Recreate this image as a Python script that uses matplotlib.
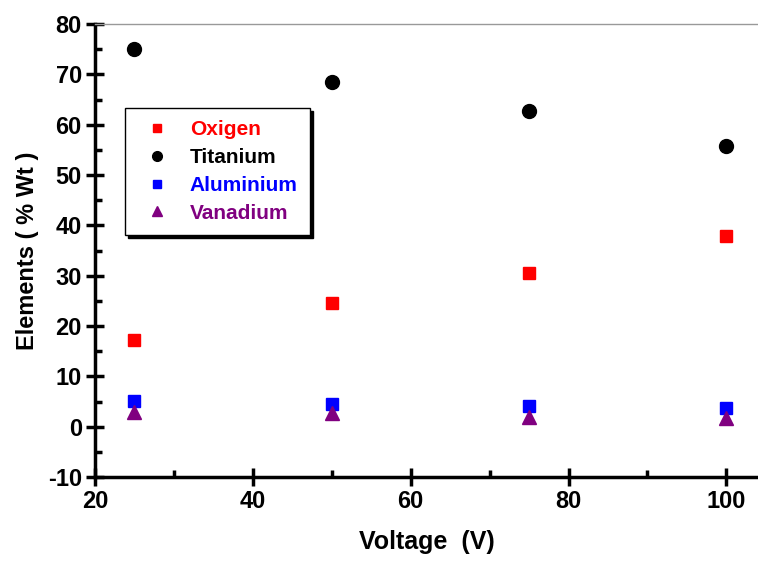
import matplotlib.pyplot as plt
from matplotlib.ticker import MultipleLocator

plt.rcParams['font.family'] = ['Liberation Sans', 'DejaVu Sans']
plt.rcParams['font.weight'] = 'bold'
plt.rcParams['axes.unicode_minus'] = False

# values
voltage = [25, 50, 75, 100]
oxygen = [17.2, 24.5, 30.5, 38.0]
titanium = [75.0, 68.5, 62.8, 55.7]
aluminium = [5.1, 4.5, 4.2, 3.8]
vanadium = [3.0, 2.8, 2.0, 1.8]

series = [
    ("Oxigen", oxygen, "s", "#ff0000", 8),
    ("Titanium", titanium, "o", "#000000", 10),
    ("Aluminium", aluminium, "s", "#0000ff", 9),
    ("Vanadium", vanadium, "^", "#800080", 10),
]

fig = plt.figure(figsize=(7.58, 5.62), dpi=100)
ax = fig.add_axes([0.1253, 0.1512, 0.8747, 0.8058])

for name, vals, mk, col, ms in series:
    ax.plot(voltage, vals, linestyle='none', marker=mk, color=col,
            markersize=ms, label=name)

ax.set_xlim(20, 104)
ax.set_ylim(-10, 80)
ax.xaxis.set_major_locator(MultipleLocator(20))
ax.xaxis.set_minor_locator(MultipleLocator(10))
ax.yaxis.set_major_locator(MultipleLocator(10))
ax.yaxis.set_minor_locator(MultipleLocator(5))

for s in ['left', 'bottom']:
    ax.spines[s].set_linewidth(2.5)
ax.spines['right'].set_visible(False)
ax.spines['top'].set_color('#999999')
ax.spines['top'].set_linewidth(1)

ax.tick_params(which='major', direction='inout', length=13, width=2.5,
               labelsize=17, top=False, right=False, pad=3)
ax.tick_params(which='minor', direction='in', length=5, width=2.5,
               top=False, right=False)

ax.set_xlabel('Voltage  (V)', fontsize=18, fontweight='bold', labelpad=12)
ax.set_ylabel('Elements ( % Wt )', fontsize=17, fontweight='bold', labelpad=6)

leg = ax.legend(loc='upper left', bbox_to_anchor=(0.045, 0.815), frameon=True,
                fancybox=False, shadow={'color': 'black', 'alpha': 1},
                edgecolor='black', fontsize=15, handletextpad=0.65,
                borderpad=0.6, labelspacing=0.42, handlelength=1.875,
                borderaxespad=0, markerscale=0.7)
leg.get_frame().set_linewidth(1)
leg.get_frame().set_alpha(1)
for txt, (name, vals, mk, col, ms) in zip(leg.get_texts(), series):
    txt.set_color(col)
    txt.set_fontweight('bold')

fig.savefig('out.png', dpi=100)
